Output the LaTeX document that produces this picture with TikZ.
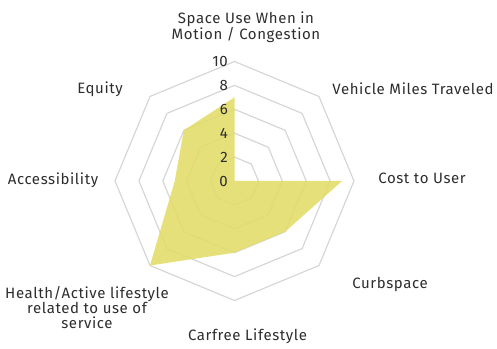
\documentclass[tikz,border=0pt]{standalone}
\usepackage{fontspec}
\setmainfont{Fira Sans}[LetterSpace=4]
\usetikzlibrary{calc}
\definecolor{gridgray}{RGB}{214,214,214}
\definecolor{radarfill}{RGB}{226,221,107}
\definecolor{txt}{RGB}{45,45,45}
\begin{document}
\begin{tikzpicture}[x=1pt,y=1pt,
  grid/.style={draw=gridgray,line width=1.2pt,line join=miter},
  lab/.style={font=\fontsize{15}{14.3}\selectfont,text=txt,inner sep=0pt,align=center},
  tick/.style={font=\fontsize{15}{14}\selectfont,text=txt,inner sep=0pt,anchor=east}]
\useasboundingbox (0,0) rectangle (497,348);
\coordinate (O) at (234.5,167);
\def\R{11.95}
% grid octagons
\foreach \k in {2,4,6,8,10}{
  \draw[grid] ($(O)+(90:\k*\R)$) -- ($(O)+(45:\k*\R)$) -- ($(O)+(0:\k*\R)$) -- ($(O)+(-45:\k*\R)$)
   -- ($(O)+(-90:\k*\R)$) -- ($(O)+(-135:\k*\R)$) -- ($(O)+(180:\k*\R)$) -- ($(O)+(135:\k*\R)$) -- cycle;
}
% data polygon
\fill[radarfill,fill opacity=0.9]
  ($(O)+(90:7*\R)$) -- (O) -- ($(O)+(0:9*\R)$) -- ($(O)+(-45:6*\R)$)
  -- ($(O)+(-90:6*\R)$) -- ($(O)+(-135:10*\R)$) -- ($(O)+(180:5*\R)$) -- ($(O)+(135:6*\R)$) -- cycle;
% tick labels
\foreach \k in {0,2,4,6,8,10}{
  \node[tick] (t\k) at (228,167+\k*\R) {\k};
}
% axis labels
\node[lab] (space) at (246,321) {Space Use When in\\Motion / Congestion};
\node[lab] (vmt) at (413,259) {Vehicle Miles Traveled};
\node[lab] (cost) at (422,170) {Cost to User};
\node[lab] (curb) at (390,64) {Curbspace};
\node[lab] (carfree) at (247.5,12) {Carfree Lifestyle};
\node[lab,font=\fontsize{15}{15}\selectfont] (health) at (87,40) {Health/Active lifestyle\\related to use of\\service};
\node[lab] (access) at (53,168) {Accessibility};
\node[lab] (equity) at (100,259) {Equity};
\end{tikzpicture}
\end{document}
